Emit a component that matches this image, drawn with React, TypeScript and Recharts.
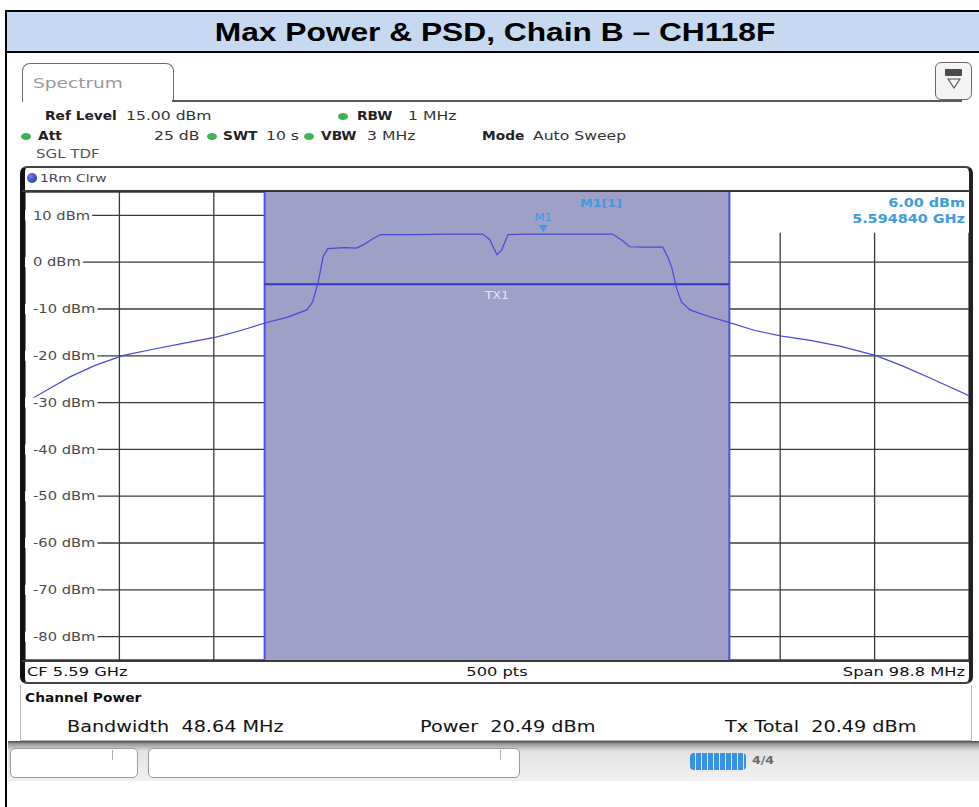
import React from 'react';
import {
  ComposedChart,
  Line,
  XAxis,
  YAxis,
  CartesianGrid,
  ReferenceArea,
  ReferenceLine,
  ReferenceDot,
} from 'recharts';

const FONT = '"DejaVu Sans", Verdana, sans-serif';
const SX = 1.25;

// Trace: frequency offset from CF (MHz) and level (dBm)
const freqOffsetMHz = [-49.4, -47.0, -44.7, -42.0, -39.1, -36.0, -33.0, -29.4, -27.0, -24.3, -22.0, -19.9, -19.3, -18.7, -18.2, -17.7, -16.0, -14.7, -14.0, -13.0, -12.2, -9.0, -5.0, -1.5, -0.75, -0.3, 0.0, 0.5, 1.15, 3.0, 4.84, 8.0, 12.1, 13.0, 13.9, 15.5, 17.35, 17.9, 18.3, 18.8, 19.3, 20.2, 22.0, 24.0, 27.0, 29.8, 32.8, 36.0, 39.6, 42.5, 45.5, 49.4];
const traceLevelDbm = [-30.0, -27.2, -24.5, -22.0, -19.9, -18.6, -17.4, -16.0, -14.7, -13.0, -11.8, -10.2, -8.5, -4.2, 1.2, 2.9, 3.1, 3.0, 3.7, 5.0, 5.9, 5.9, 6.0, 6.0, 4.8, 2.8, 1.6, 2.6, 5.9, 6.0, 6.0, 6.0, 6.0, 4.8, 3.3, 3.2, 3.2, 1.0, -1.2, -5.6, -8.5, -10.2, -11.5, -12.7, -14.6, -15.8, -16.7, -18.0, -19.9, -22.2, -24.9, -28.5];

const levelTicksDbm = [10, 0, -10, -20, -30, -40, -50, -60, -70, -80];
const freqGridMHz = [-39.52, -29.64, -19.76, -9.88, 0, 9.88, 19.76, 29.64, 39.52];

const spanMHz = 98.8;
const refLevelDbm = 15;
const bottomLevelDbm = -85;
const channelBwMHz = 48.64;
const txLevelDbm = -4.7;
const markerFreqMHz = 4.84;
const markerLevelDbm = 6.0;
const readoutBottomDbm = 6.3;

const traceData = freqOffsetMHz.map((f, i) => ({ freq: f, level: traceLevelDbm[i] }));

const charW: Record<string, number> = { '-': 0.361, ' ': 0.318, d: 0.635, B: 0.686, m: 0.974 };
const estWidth = (s: string, size: number, sx: number) =>
  s.split('').reduce((a, c) => a + (charW[c] ?? 0.636), 0) * size * sx;

const YTick = (props: any) => {
  const { y, payload } = props;
  const label = `${payload.value} dBm`;
  const w = 8 + estWidth(label, 11.5, 1.28) + 2;
  return (
    <g>
      <rect x={0} y={y - 5} width={w} height={10} fill="#ffffff" />
      <text
        transform={`translate(8 ${y + 4.2}) scale(1.28 1)`}
        fontSize={11.5}
        fontFamily={FONT}
        fill="#4a4a4a"
      >
        {label}
      </text>
    </g>
  );
};

const TxLabel = (props: any) => {
  const vb = props.viewBox || {};
  const cx = (vb.x ?? 0) + (vb.width ?? 0) / 2;
  const cy = (vb.y ?? 0) + 15;
  return (
    <text
      transform={`translate(${cx} ${cy}) scale(1.25 1)`}
      textAnchor="middle"
      fontSize={10}
      fontFamily={FONT}
      fill="#e6e6f2"
    >
      TX1
    </text>
  );
};

const MarkerShape = (props: any) => {
  const { cx, cy } = props;
  return (
    <g>
      <path d={`M${cx - 4.5},${cy - 9} L${cx + 4.5},${cy - 9} L${cx},${cy - 2} Z`} fill="#3d9be0" />
      <text
        transform={`translate(${cx} ${cy - 13}) scale(1.2 1)`}
        textAnchor="middle"
        fontSize={10}
        fontFamily={FONT}
        fill="#3d9be0"
      >
        M1
      </text>
    </g>
  );
};

type TProps = {
  x: number;
  y: number;
  children: React.ReactNode;
  size?: number;
  weight?: number;
  color?: string;
  anchor?: 'start' | 'middle' | 'end';
  sx?: number;
  family?: string;
};

const T = ({ x, y, children, size = 12.5, weight = 400, color = '#333', anchor = 'start', sx = SX, family = FONT }: TProps) => {
  const tx = anchor === 'middle' ? '-50%' : anchor === 'end' ? '-100%' : '0';
  const origin = anchor === 'middle' ? 'center' : anchor === 'end' ? 'right' : 'left';
  return (
    <div
      style={{
        position: 'absolute',
        left: x,
        top: y,
        fontSize: size,
        fontWeight: weight,
        color,
        fontFamily: family,
        whiteSpace: 'nowrap',
        lineHeight: 1,
        transform: `translate(${tx}, -50%) scaleX(${sx})`,
        transformOrigin: origin,
      }}
    >
      {children}
    </div>
  );
};

const Dot = ({ x, y }: { x: number; y: number }) => (
  <div
    style={{
      position: 'absolute',
      left: x - 5,
      top: y - 3.5,
      width: 10,
      height: 7,
      borderRadius: '50%',
      background: '#3fb24a',
    }}
  />
);

const box = (s: React.CSSProperties): React.CSSProperties => ({ position: 'absolute', boxSizing: 'border-box', ...s });

export default function App() {
  return (
    <div style={box({ left: 0, top: 0, width: 979, height: 807, background: '#fff', overflow: 'hidden' })}>
      {/* outer document frame and title */}
      <div style={box({ left: 5, top: 10, width: 2, height: 797, background: '#000' })} />
      <div style={box({ left: 5, top: 10, width: 974, height: 2, background: '#000' })} />
      <div style={box({ left: 7, top: 12, width: 972, height: 39, background: '#c6d9f1' })} />
      <div style={box({ left: 5, top: 51, width: 974, height: 2, background: '#000' })} />
      <T x={495} y={32} size={26} weight={700} color="#000" anchor="middle" sx={1.22} family='"Liberation Sans", Arial, sans-serif'>
        Max Power &amp; PSD, Chain B – CH118F
      </T>

      {/* Spectrum tab */}
      <div style={box({ left: 22, top: 63, width: 152, height: 39, border: '1.5px solid #6e6e6e', borderBottom: 'none', borderRadius: '8px 8px 0 0', background: '#fff' })} />
      <div style={box({ left: 172, top: 100, width: 790, height: 2, background: '#5a5a5a' })} />
      <T x={33} y={83} size={14.5} color="#9a9a9a" sx={1.28}>Spectrum</T>
      {/* icon */}
      <div style={box({ left: 935, top: 62, width: 37, height: 38, border: '1.5px solid #6a6a6a', borderRadius: 6, background: '#f4f4f4' })} />
      <div style={box({ left: 945, top: 69, width: 17, height: 7, background: '#4a4a4a', borderRadius: 1 })} />
      <svg style={{ position: 'absolute', left: 947, top: 78 }} width={14} height={12}>
        <path d="M1,1 L13,1 L7,10 Z" fill="none" stroke="#555" strokeWidth={1.2} />
      </svg>

      {/* settings */}
      <T x={45} y={116} weight={700} color="#222" sx={1.1}>Ref Level</T>
      <T x={126} y={116}>15.00 dBm</T>
      <Dot x={343} y={116} />
      <T x={357} y={116} weight={700} color="#222" sx={1.1}>RBW</T>
      <T x={408} y={116}>1 MHz</T>

      <Dot x={26} y={136} />
      <T x={38} y={136} weight={700} color="#222" sx={1.1}>Att</T>
      <T x={154} y={136}>25 dB</T>
      <Dot x={212} y={136} />
      <T x={223} y={136} weight={700} color="#222" sx={1.1}>SWT</T>
      <T x={266} y={136}>10 s</T>
      <Dot x={309} y={136} />
      <T x={321} y={136} weight={700} color="#222" sx={1.1}>VBW</T>
      <T x={367} y={136}>3 MHz</T>
      <T x={482} y={136} weight={700} color="#222" sx={1.1}>Mode</T>
      <T x={533} y={136}>Auto Sweep</T>

      <T x={36} y={154} size={12} color="#555">SGL TDF</T>

      {/* diagram frame */}
      <div style={box({ left: 20, top: 166, width: 953, height: 518, border: '2px solid #444', borderLeft: '5px solid #111', borderRight: '4px solid #222', borderRadius: 7 })} />
      <div style={box({ left: 27, top: 173, width: 10, height: 10, borderRadius: '50%', background: 'radial-gradient(circle at 35% 35%, #6f7fe8, #1a2390)' })} />
      <T x={40} y={178} size={11} color="#444">1Rm Clrw</T>
      <div style={box({ left: 22, top: 190, width: 948, height: 2, background: '#3a3a3a' })} />
      <div style={box({ left: 22, top: 660, width: 948, height: 2, background: '#3a3a3a' })} />

      <div style={{ position: 'absolute', left: 25, top: 192 }}>
        <ComposedChart width={944} height={468} data={traceData} margin={{ top: 0, right: 0, bottom: 0, left: 0 }}>
          <CartesianGrid stroke="#3a3a3a" strokeWidth={1.3} />
          <XAxis dataKey="freq" type="number" domain={[-spanMHz / 2, spanMHz / 2]} ticks={freqGridMHz} hide />
          <YAxis
            type="number"
            domain={[bottomLevelDbm, refLevelDbm]}
            ticks={levelTicksDbm}
            interval={0}
            mirror
            axisLine={false}
            tickLine={false}
            tick={<YTick />}
          />
          <ReferenceArea x1={-channelBwMHz / 2} x2={channelBwMHz / 2} y1={bottomLevelDbm} y2={refLevelDbm} fill="#9fa0c6" fillOpacity={1} stroke="none" />
          <ReferenceArea x1={channelBwMHz / 2} x2={spanMHz / 2} y1={readoutBottomDbm} y2={refLevelDbm} fill="#ffffff" fillOpacity={1} stroke="none" />
          <ReferenceLine x={-channelBwMHz / 2} stroke="#4f4ff0" strokeWidth={2} />
          <ReferenceLine x={channelBwMHz / 2} stroke="#4f4ff0" strokeWidth={2} />
          <ReferenceLine
            segment={[
              { x: -channelBwMHz / 2, y: txLevelDbm },
              { x: channelBwMHz / 2, y: txLevelDbm },
            ]}
            stroke="#3434c8"
            strokeWidth={2}
            label={<TxLabel />}
          />
          <Line dataKey="level" type="linear" stroke="#4848d6" strokeWidth={1.2} dot={false} isAnimationActive={false} />
          <ReferenceDot x={markerFreqMHz} y={markerLevelDbm} r={4} shape={MarkerShape} />
        </ComposedChart>
      </div>

      {/* marker readout */}
      <T x={601} y={203} size={11} weight={700} color="#3d9be0" anchor="middle" sx={1.15}>M1[1]</T>
      <T x={965} y={203} size={12} weight={700} color="#3d9be0" anchor="end" sx={1.2}>6.00 dBm</T>
      <T x={965} y={219} size={12} weight={700} color="#3d9be0" anchor="end" sx={1.2}>5.594840 GHz</T>

      {/* bottom info */}
      <T x={27} y={671} size={13} color="#111">CF 5.59 GHz</T>
      <T x={497} y={671} size={13} color="#111" anchor="middle">500 pts</T>
      <T x={965} y={671} size={13} color="#111" anchor="end">Span 98.8 MHz</T>

      {/* channel power */}
      <div style={box({ left: 20, top: 685, width: 952, height: 56, border: '1px solid #b8b8b8', borderTop: 'none', background: '#fff' })} />
      <T x={25} y={698} size={12} weight={700} color="#111" sx={1.15}>Channel Power</T>
      <T x={67} y={727} size={16} color="#111" sx={1.2}>Bandwidth&nbsp; 48.64 MHz</T>
      <T x={420} y={727} size={16} color="#111" sx={1.2}>Power&nbsp; 20.49 dBm</T>
      <T x={725} y={727} size={16} color="#111" sx={1.2}>Tx Total&nbsp; 20.49 dBm</T>

      {/* status bar */}
      <div style={box({ left: 8, top: 741, width: 971, height: 40, background: 'linear-gradient(to bottom, #4a4a4a 0px, #9a9a9a 3px, #e2e2e2 10px, #f2f2f2 100%)' })} />
      <div style={box({ left: 10, top: 748, width: 128, height: 30, background: '#fff', border: '1px solid #9a9a9a', borderRadius: 5 })} />
      <div style={box({ left: 112, top: 750, width: 1, height: 10, background: '#b0b0b0' })} />
      <div style={box({ left: 148, top: 748, width: 372, height: 30, background: '#fff', border: '1px solid #9a9a9a', borderRadius: 5 })} />
      <div style={box({ left: 500, top: 750, width: 1, height: 10, background: '#b0b0b0' })} />
      <div
        style={box({
          left: 690,
          top: 753,
          width: 56,
          height: 17,
          borderRadius: 4,
          background: 'repeating-linear-gradient(to right, #3a8fe6 0px, #3a8fe6 5px, #d8ebff 5px, #d8ebff 6px)',
        })}
      />
      <T x={752} y={761} size={10} weight={700} color="#6a6a6a">4/4</T>
    </div>
  );
}
